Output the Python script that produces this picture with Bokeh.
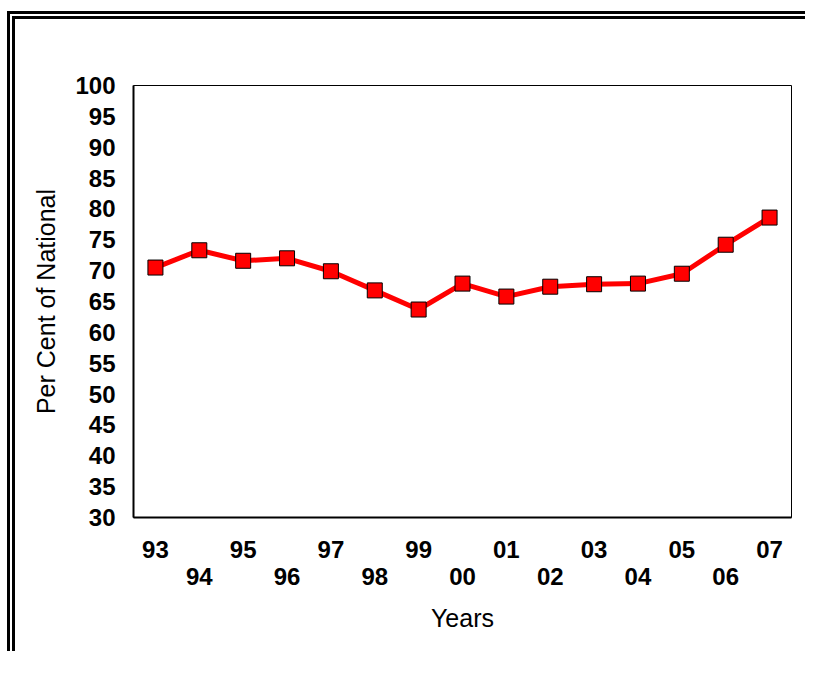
from bokeh.plotting import figure
from bokeh.models import FixedTicker, LinearAxis, Range1d
from bokeh.embed import file_html
from bokeh.resources import INLINE

years = ["93", "94", "95", "96", "97", "98", "99", "00", "01", "02", "03", "04", "05", "06", "07"]
values = [70.5, 73.3, 71.6, 72.0, 69.9, 66.8, 63.7, 67.9, 65.8, 67.4, 67.8, 67.9, 69.5, 74.2, 78.6]
y_ticks = list(range(30, 101, 5))
x_title = "Years"
y_title = "Per Cent of National"

idx = list(range(len(years)))

W, H = 798, 640
p = figure(width=W, height=H, output_backend="svg", toolbar_location=None,
           x_range=Range1d(-0.5, len(years) - 0.5), y_range=Range1d(30, 100),
           x_axis_location=None, y_axis_location=None,
           min_border_left=118, min_border_right=22, min_border_top=66, min_border_bottom=142)
p.styles = {"border-left": "8px double black", "border-top": "8px double black",
            "margin-top": "11px", "margin-left": "7px"}
p.grid.visible = False
p.outline_line_color = "black"
p.outline_line_width = 1
p.background_fill_color = "white"
p.border_fill_color = "white"

FONT = "Liberation Sans"
TICK_SIZE = "24px"
TITLE_SIZE = "25px"

yax = LinearAxis(ticker=FixedTicker(ticks=y_ticks), axis_label=y_title)
yax.major_tick_line_color = None
yax.minor_tick_line_color = None
yax.axis_line_width = 2
yax.axis_line_color = "black"
yax.major_label_text_font = FONT
yax.major_label_text_font_style = "bold"
yax.major_label_text_font_size = TICK_SIZE
yax.major_label_text_color = "black"
yax.major_label_standoff = 12
yax.axis_label_text_font = FONT
yax.axis_label_text_font_style = "normal"
yax.axis_label_text_font_size = TITLE_SIZE
yax.axis_label_text_color = "black"
yax.axis_label_standoff = 12
p.add_layout(yax, "left")

even_ticks = idx[0::2]
odd_ticks = idx[1::2]
xax1 = LinearAxis(ticker=FixedTicker(ticks=even_ticks),
                  major_label_overrides={i: years[i] for i in even_ticks})
xax2 = LinearAxis(ticker=FixedTicker(ticks=odd_ticks),
                  major_label_overrides={i: years[i] for i in odd_ticks},
                  axis_label=x_title)
for ax in (xax1, xax2):
    ax.major_tick_line_color = None
    ax.minor_tick_line_color = None
    ax.major_label_text_font = FONT
    ax.major_label_text_font_style = "bold"
    ax.major_label_text_font_size = TICK_SIZE
    ax.major_label_text_color = "black"
xax1.axis_line_width = 2
xax1.axis_line_color = "black"
xax1.major_label_standoff = 17
xax2.axis_line_color = None
xax2.major_label_standoff = 1
xax2.axis_label_text_font = FONT
xax2.axis_label_text_font_style = "normal"
xax2.axis_label_text_font_size = TITLE_SIZE
xax2.axis_label_text_color = "black"
xax2.axis_label_standoff = 16
p.add_layout(xax1, "below")
p.add_layout(xax2, "below")

p.line(idx, values, line_color="#FF0000", line_width=5)
p.scatter(idx, values, marker="square", size=15, fill_color="#FF0000", line_color="black", line_width=1)

open("out.html", "w").write(file_html(p, INLINE))
